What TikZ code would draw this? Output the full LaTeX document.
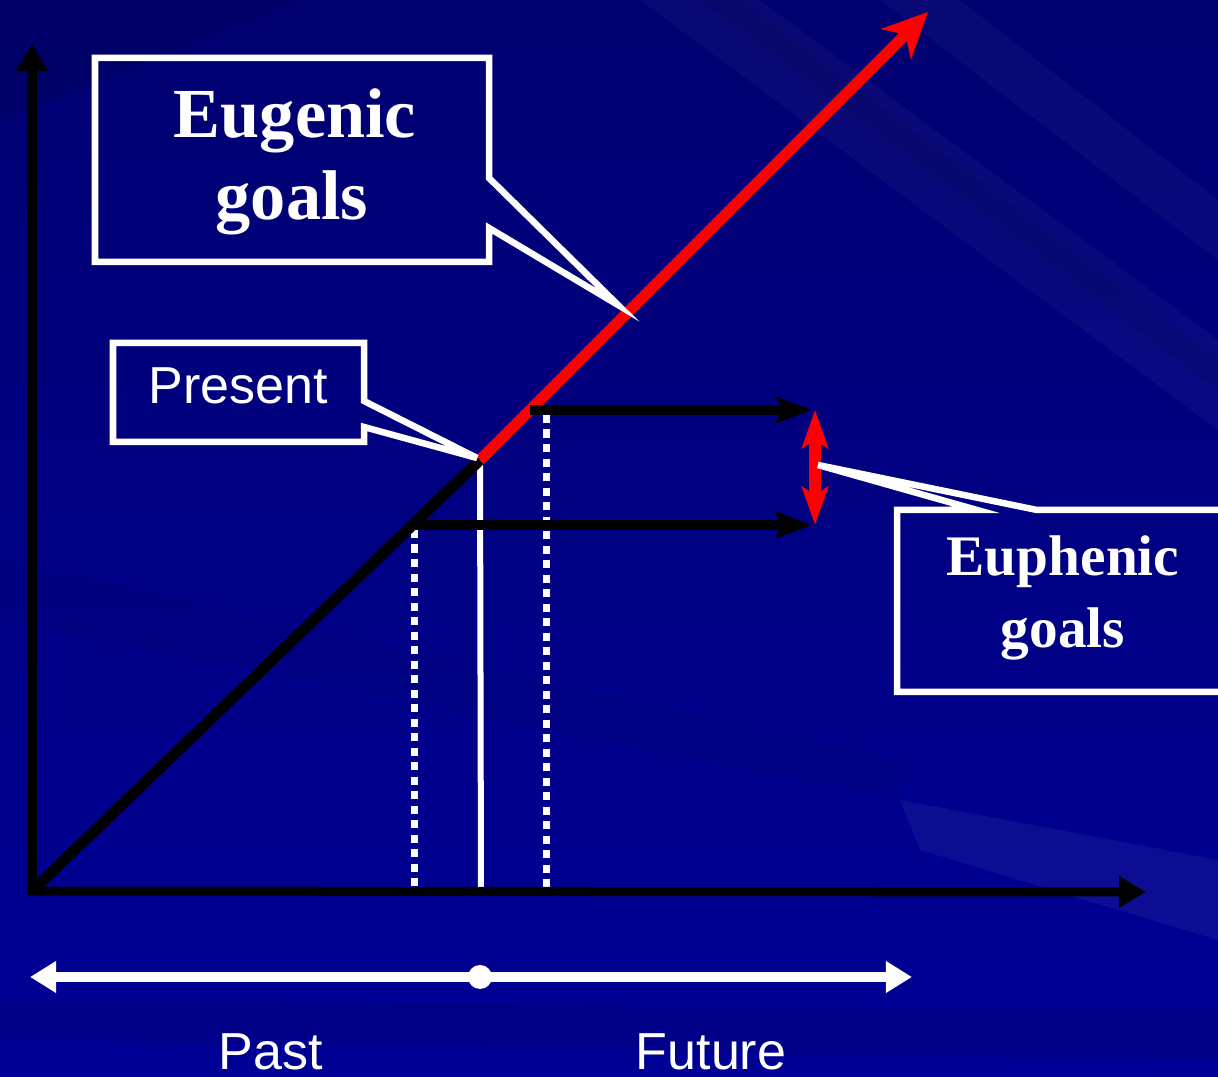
\documentclass[tikz,border=0pt]{standalone}
\usepackage{fontspec}
\setmainfont{Liberation Serif}
\newfontfamily\arialf{Liberation Sans}
\usetikzlibrary{arrows.meta}
\definecolor{bgA}{RGB}{0,0,112}
\definecolor{bgB}{RGB}{0,0,150}
\definecolor{redA}{RGB}{255,0,0}
\begin{document}
\begin{tikzpicture}[x=0.01cm,y=-0.01cm,
  axis/.style={line width=0.09cm, black, -{Triangle[length=0.27cm,width=0.3cm]}},
  redarrow/.style={line width=0.11cm, redA, -{Stealth[length=0.45cm,width=0.42cm,inset=0.13cm]}},
  levelarrow/.style={line width=0.095cm, black, -{Stealth[length=0.36cm,width=0.26cm,inset=0.06cm]}},
  gaparrow/.style={line width=0.12cm, redA, {Stealth[length=0.38cm,width=0.26cm,inset=0.08cm]}-{Stealth[length=0.38cm,width=0.26cm,inset=0.08cm]}},
  timearrow/.style={line width=0.1cm, white, {Triangle[length=0.26cm,width=0.3cm]}-{Triangle[length=0.26cm,width=0.3cm]}},
  dotline/.style={line width=0.07cm, white, dash pattern=on 0.08cm off 0.065cm},
  callout/.style={line width=0.065cm, white, line join=miter},
  bigserif/.style={text=white, font=\bfseries\fontsize{20pt}{23pt}\selectfont, inner sep=0pt},
  midserif/.style={text=white, font=\bfseries\fontsize{16.3pt}{20pt}\selectfont, inner sep=0pt},
  sanslabel/.style={text=white, font=\arialf\fontsize{14.8pt}{17pt}\selectfont, inner sep=0pt}]
\useasboundingbox (0,0) rectangle (1218,1077);
\clip (0,0) rectangle (1218,1077);
% background
\shade[top color=bgA, bottom color=bgB] (0,0) rectangle (1218,1077);
\fill[white, opacity=0.035] (640,0) -- (760,0) -- (1218,340) -- (1218,430) -- cycle;
\fill[white, opacity=0.035] (880,0) -- (960,0) -- (1218,200) -- (1218,260) -- cycle;
\fill[black, opacity=0.07] (700,0) -- (740,0) -- (1218,360) -- (1218,390) -- cycle;
\fill[white, opacity=0.05] (900,800) -- (1218,860) -- (1218,940) -- (920,850) -- cycle;
\fill[black, opacity=0.08] (0,1000) -- (1218,1010) -- (1218,1060) -- (0,1040) -- cycle;
\fill[black, opacity=0.04] (0,560) -- (900,760) -- (900,800) -- (0,620) -- cycle;
\fill[black, opacity=0.08] (0,0) -- (300,0) -- (0,120) -- cycle;
% key points
\coordinate (O) at (32,891);
\coordinate (Ytop) at (32,44);
\coordinate (Xend) at (1146,892);
\coordinate (P) at (480,460);
\coordinate (Rtip) at (928,12);
\coordinate (Pbase) at (481,892);
\coordinate (A1) at (530,410);
\coordinate (A1e) at (812,410);
\coordinate (B1) at (412,525);
\coordinate (B1e) at (812,525);
\coordinate (D1) at (546,415);
\coordinate (D1b) at (546,890);
\coordinate (D2) at (414,530);
\coordinate (D2b) at (414,890);
\coordinate (G1) at (815,410);
\coordinate (G2) at (815,525);
\coordinate (T1) at (30,977);
\coordinate (T2) at (912,977);
\coordinate (Tmid) at (480,977);
% verticals
\draw[line width=0.06cm, white] (P) -- (Pbase);
\draw[dotline] (D1) -- (D1b);
\draw[dotline] (D2) -- (D2b);
% growth line
\draw[line width=0.11cm, black] (O) -- (P);
\draw[redarrow] (P) -- (Rtip);
% level arrows
\draw[levelarrow] (A1) -- (A1e);
\draw[levelarrow] (B1) -- (B1e);
\draw[gaparrow] (G1) -- (G2);
% axes
\draw[axis] ([yshift=-0.045cm]O) -- (Ytop);
\draw[axis] ([xshift=-0.045cm]O) -- (Xend);
% time line
\draw[timearrow] (T1) -- (T2);
\fill[white] (Tmid) circle (12);
% callouts
\draw[callout] (95,58) -- (489,58) -- (489,178) -- (618,305) -- (489,228) -- (489,262) -- (95,262) -- cycle;
\draw[callout] (113,343) -- (364,343) -- (364,401) -- (477,458) -- (364,427) -- (364,442) -- (113,442) -- cycle;
\draw[callout] (1240,510) -- (1037,510) -- (818,465) -- (977,510) -- (897,510) -- (897,692) -- (1240,692);
% texts
\node[bigserif, anchor=base] (eug1) at (295,138) {Eugenic};
\node[bigserif, anchor=base] (eug2) at (292,220) {goals};
\node[sanslabel, anchor=base] (pres) at (238,404) {Present};
\node[midserif, anchor=base] (euph1) at (1063,576) {Euphenic};
\node[midserif, anchor=base] (euph2) at (1063,648) {goals};
\node[sanslabel, anchor=base] (past) at (271,1070) {Past};
\node[sanslabel, anchor=base] (fut) at (711,1070) {Future};
\end{tikzpicture}
\end{document}
